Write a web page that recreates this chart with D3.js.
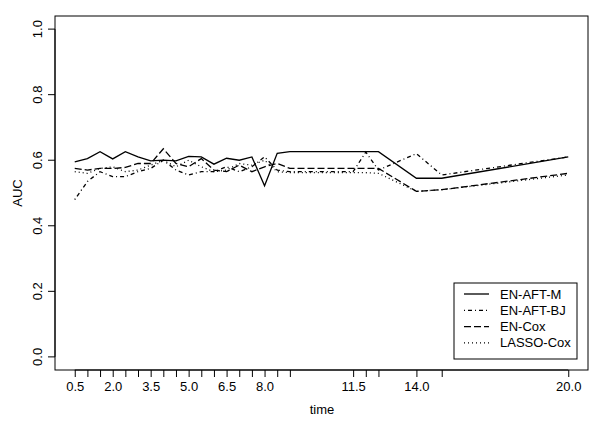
<!DOCTYPE html>
<html><head><meta charset="utf-8">
<script src="https://cdn.jsdelivr.net/npm/d3@7"></script>
<style>body{margin:0;background:#fff}svg{display:block}text{font-family:"Liberation Sans",Arial,sans-serif;fill:#000}</style>
</head><body><svg id="c" width="600" height="430"></svg>
<script>
const times = [0.5,1,1.5,2,2.5,3,3.5,4,4.5,5,5.5,6,6.5,7,7.5,8,8.5,9,11.5,12,12.5,14,15,20];
const tickLabels = [0.5,2.0,3.5,5.0,6.5,8.0,11.5,14.0,20.0];
const yTicks = [0,0.2,0.4,0.6,0.8,1.0];
const seriesNames = ["EN-AFT-M","EN-AFT-BJ","EN-Cox","LASSO-Cox"];
const enAftM  = [0.595,0.605,0.626,0.604,0.626,0.61,0.598,0.60,0.598,0.612,0.61,0.588,0.606,0.60,0.61,0.522,0.621,0.626,0.626,0.626,0.626,0.545,0.545,0.61];
const enAftBJ = [0.48,0.535,0.565,0.55,0.55,0.565,0.575,0.60,0.57,0.555,0.565,0.565,0.58,0.565,0.58,0.61,0.57,0.565,0.565,0.625,0.57,0.62,0.555,0.61];
const enCox   = [0.575,0.57,0.575,0.575,0.578,0.59,0.59,0.635,0.59,0.58,0.605,0.57,0.565,0.585,0.565,0.58,0.59,0.575,0.575,0.575,0.575,0.505,0.51,0.56];
const lassoCox= [0.565,0.56,0.575,0.58,0.565,0.57,0.585,0.60,0.58,0.60,0.58,0.565,0.57,0.59,0.585,0.60,0.565,0.562,0.562,0.562,0.56,0.505,0.51,0.555];
const values = [enAftM, enAftBJ, enCox, lassoCox];
const dashes = [null, "1,3,4,3", "7,3", "1,3"];

const svg = d3.select("#c");
const L=55, R=588, T=16, B=370;
const FS = 13;
const x = d3.scaleLinear().domain([0.5-0.78, 20+0.78]).range([L,R]);
const y = d3.scaleLinear().domain([-0.04,1.04]).range([B,T]);

svg.append("rect").attr("x",L).attr("y",T).attr("width",R-L).attr("height",B-T)
  .attr("fill","none").attr("stroke","#000").attr("stroke-width",1);

const xa = svg.append("g").attr("transform",`translate(0,${B})`)
  .call(d3.axisBottom(x).tickValues(times).tickSize(7).tickFormat(d=>tickLabels.includes(d)?d.toFixed(1):""));
xa.select(".domain").attr("d",`M${x(times[0])},0H${x(times[times.length-1])}`);
xa.selectAll("text").attr("font-size",FS).attr("dy","0.9em").attr("y",9);

const ya = svg.append("g").attr("transform",`translate(${L},0)`)
  .call(d3.axisLeft(y).tickValues(yTicks).tickSize(7).tickFormat(d3.format(".1f")));
ya.select(".domain").attr("d",`M0,${y(0)}V${y(1)}`);
ya.selectAll(".tick").attr("transform",null);
ya.selectAll(".tick line").attr("y1",d=>y(d)).attr("y2",d=>y(d));
ya.selectAll("text").attr("font-size",FS).attr("text-anchor","middle").attr("x",0).attr("dy",0).attr("y",0)
  .attr("transform",d=>`translate(-13,${y(d)}) rotate(-90)`);

svg.append("text").attr("x",322).attr("y",414).attr("text-anchor","middle").attr("font-size",FS).text("time");
svg.append("text").attr("transform","translate(22,193) rotate(-90)").attr("text-anchor","middle").attr("font-size",FS).text("AUC");

const line = d3.line().x((d,i)=>x(times[i])).y(d=>y(d));
values.forEach((v,k)=>{
  svg.append("path").datum(v).attr("d",line).attr("fill","none").attr("stroke","#000")
    .attr("stroke-width",1.3).attr("stroke-dasharray",dashes[k]);
});

const lg = svg.append("g");
lg.append("rect").attr("x",454).attr("y",283).attr("width",123).attr("height",76)
  .attr("fill","#fff").attr("stroke","#000");
seriesNames.forEach((n,k)=>{
  const yy = 294 + k*16.3;
  lg.append("line").attr("x1",464).attr("x2",489).attr("y1",yy).attr("y2",yy)
    .attr("stroke","#000").attr("stroke-width",1.3).attr("stroke-dasharray",dashes[k]);
  lg.append("text").attr("x",500).attr("y",yy).attr("dy","0.35em").attr("font-size",FS).text(n);
});
</script></body></html>
